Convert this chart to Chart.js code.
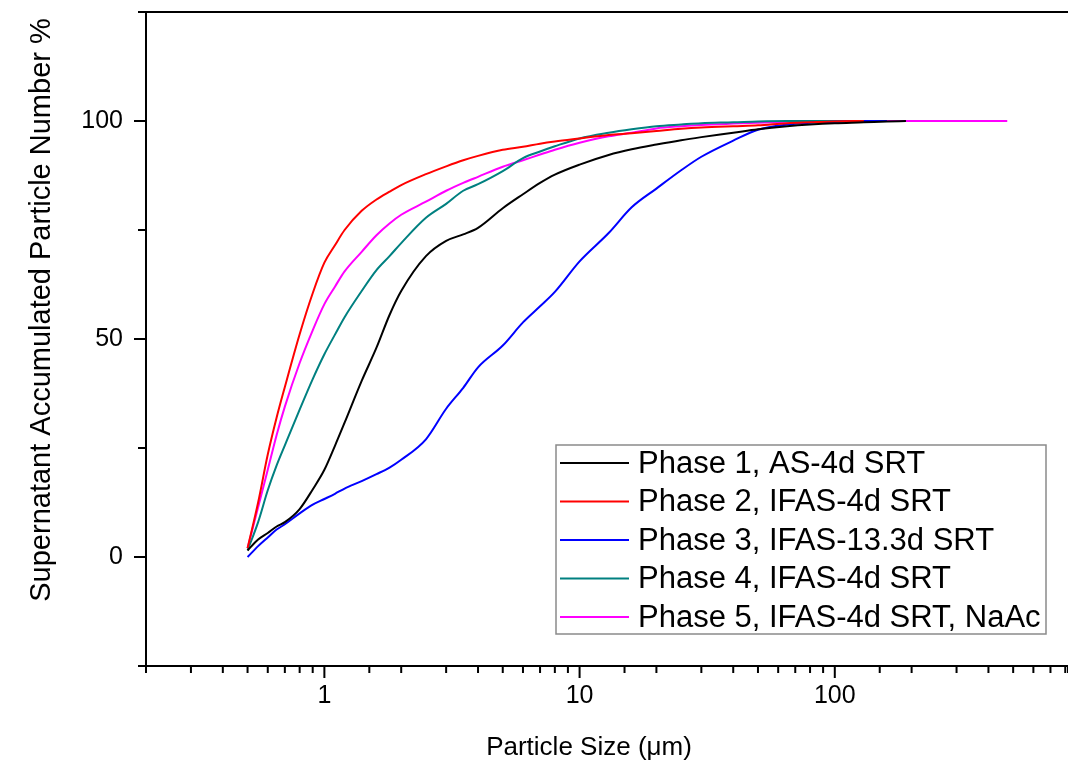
<!DOCTYPE html>
<html>
<head>
<meta charset="utf-8">
<script src="https://cdn.jsdelivr.net/npm/chart.js@4.4.0/dist/chart.umd.min.js"></script>
<style>
  body { margin: 0; background: #fff; }
  canvas { display: block; }
</style>
</head>
<body>
<canvas id="psdChart" width="1068" height="762"></canvas>
<script>
// particle size (um), shared by all phases
var sizes = [0.5, 0.55, 0.6, 0.65, 0.7, 0.8, 0.9, 1, 1.1, 1.2, 1.4, 1.6, 1.8, 2, 2.5, 3, 3.5, 4, 5, 6, 7, 8, 10, 13, 16, 20, 25, 30, 40, 50, 65, 80, 100, 130, 160, 190, 300, 474];

// accumulated particle number %, null = past end of measurement
var phase1 = [1.5, 4, 5.5, 7, 8, 11, 15.5, 20, 25.5, 30.8, 40.4, 48, 55.5, 61, 69, 72.5, 74, 75.5, 80, 83.2, 85.8, 87.7, 90, 92.2, 93.5, 94.6, 95.6, 96.3, 97.3, 98.1, 98.8, 99.2, 99.5, 99.7, 99.9, 100, null, null];
var phase2 = [2, 12.5, 23.5, 32, 39, 51.1, 60.5, 67.5, 71.5, 75, 79.4, 82, 83.8, 85.3, 87.8, 89.6, 91, 92, 93.4, 94.1, 94.8, 95.3, 96, 96.8, 97.2, 97.7, 98.2, 98.5, 98.8, 99, 99.5, 99.7, 99.9, 100, null, null, null, null];
var phase3 = [0, 2.5, 4.5, 6.3, 7.5, 10, 12, 13.3, 14.5, 15.7, 17.4, 19, 20.5, 22.3, 27, 34, 38.8, 43.5, 48.5, 53.8, 57.5, 60.8, 67.8, 74.3, 80.2, 84.5, 88.7, 91.8, 95.5, 98, 99.2, 99.6, 99.8, 100, 100, null, null, null];
var phase4 = [1.5, 8, 15.3, 21, 25.6, 33.8, 40.8, 46.5, 51, 55, 61, 65.8, 69, 72, 77.8, 81, 84, 85.5, 88.5, 91.5, 93, 94.2, 96, 97.3, 98.1, 98.8, 99.2, 99.5, 99.7, 99.9, 100, 100, 100, 100, null, null, null, null];
var phase5 = [2, 11.4, 20, 28, 34.5, 44.5, 52, 58, 62, 65.5, 70, 73.8, 76.5, 78.5, 81.5, 84, 85.8, 87.2, 89.5, 91, 92.3, 93.4, 95, 96.5, 97.3, 98.3, 98.8, 99.1, 99.4, 99.6, 99.8, 99.9, 100, 100, 100, 100, 100, 100];

var seriesLabels = ['Phase 1, AS-4d SRT', 'Phase 2, IFAS-4d SRT', 'Phase 3, IFAS-13.3d SRT', 'Phase 4, IFAS-4d SRT', 'Phase 5, IFAS-4d SRT, NaAc'];
var seriesColors = ['#000000', '#ff0000', '#0000ff', '#008080', '#ff00ff'];
var xTickLabels = [1, 10, 100];
var yTickLabels = [0, 50, 100];

var FONT = '"Liberation Sans", Arial, sans-serif';

function toPoints(values) {
    var pts = [];
    for (var i = 0; i < sizes.length; i++) {
        if (values[i] !== null) pts.push({ x: sizes[i], y: values[i] });
    }
    return pts;
}

var allSeries = [phase1, phase2, phase3, phase4, phase5];
var datasets = allSeries.map(function (vals, i) {
    return {
        label: seriesLabels[i],
        data: toPoints(vals),
        borderColor: seriesColors[i],
        borderWidth: 2,
        pointRadius: 0,
        fill: false,
        cubicInterpolationMode: 'monotone'
    };
});

// axes frame, tick marks, titles and the boxed legend (Origin style)
var originFrame = {
    id: 'originFrame',
    afterDraw: function (chart) {
        var c = chart.ctx;
        var a = chart.chartArea;
        var xs = chart.scales.x, ys = chart.scales.y;
        c.save();
        c.strokeStyle = '#000';
        c.lineWidth = 2;
        c.beginPath();
        c.moveTo(a.left - 6, a.top); c.lineTo(a.right, a.top);
        c.moveTo(a.left, a.top); c.lineTo(a.left, a.bottom);
        c.moveTo(a.left - 6, a.bottom); c.lineTo(a.right, a.bottom);
        c.stroke();

        // x ticks
        c.beginPath();
        xs.ticks.forEach(function (t) {
            var px = xs.getPixelForValue(t.value);
            if (px < a.left - 1 || px > a.right + 1) return;
            var lg = Math.log10(t.value);
            var major = Math.abs(lg - Math.round(lg)) < 1e-6;
            c.moveTo(px, a.bottom);
            c.lineTo(px, a.bottom + (major ? 12 : 7));
        });
        // y ticks
        ys.ticks.forEach(function (t) {
            var py = ys.getPixelForValue(t.value);
            var major = t.value % 50 === 0;
            c.moveTo(a.left, py);
            c.lineTo(a.left - (major ? 12 : 8), py);
        });
        c.stroke();

        // axis titles
        c.fillStyle = '#000';
        c.font = '26px ' + FONT;
        c.textAlign = 'center';
        c.textBaseline = 'alphabetic';
        c.fillText('Particle Size (\u03bcm)', a.left + 443, a.bottom + 89);
        c.save();
        c.translate(50, a.top + 298);
        c.rotate(-Math.PI / 2);
        c.font = '29px ' + FONT;
        c.fillText('Supernatant Accumulated Particle Number %', 0, 0);
        c.restore();

        // legend box
        var bx = a.left + 410, by = a.top + 433, bw = 490, bh = 189;
        c.fillStyle = '#fff';
        c.fillRect(bx, by, bw, bh);
        c.strokeStyle = '#8a8a8a';
        c.lineWidth = 1.5;
        c.strokeRect(bx, by, bw, bh);
        c.font = '31px ' + FONT;
        c.textAlign = 'left';
        c.textBaseline = 'middle';
        chart.data.datasets.forEach(function (ds, i) {
            var ry = by + 18 + i * 38.5;
            c.strokeStyle = ds.borderColor;
            c.lineWidth = 2;
            c.beginPath();
            c.moveTo(bx + 4, ry);
            c.lineTo(bx + 73, ry);
            c.stroke();
            c.fillStyle = '#000';
            c.fillText(ds.label, bx + 82, ry + 1);
        });
        c.restore();
    }
};

var ctx = document.getElementById('psdChart').getContext('2d');
var psdChart = new Chart(ctx, {
    type: 'line',
    data: { datasets: datasets },
    options: {
        responsive: false,
        animation: false,
        devicePixelRatio: 1,
        layout: { padding: { top: 12, right: 0, bottom: 0, left: 0 } },
        plugins: {
            legend: { display: false },
            tooltip: { enabled: false }
        },
        scales: {
            x: {
                type: 'logarithmic',
                min: 0.2,
                max: 820,
                grid: { display: false, drawTicks: false },
                border: { display: false },
                afterFit: function (s) {
                    s.height = 96;
                    s.paddingLeft = 0;
                    s.paddingRight = 0;
                },
                ticks: {
                    autoSkip: false,
                    maxRotation: 0,
                    padding: 15,
                    color: '#000',
                    font: { family: FONT, size: 25 },
                    callback: function (v) {
                        return xTickLabels.indexOf(v) >= 0 ? String(v) : '';
                    }
                }
            },
            y: {
                type: 'linear',
                min: -25,
                max: 125,
                grid: { display: false, drawTicks: false },
                border: { display: false },
                afterFit: function (s) {
                    s.width = 146;
                    s.paddingTop = 0;
                    s.paddingBottom = 0;
                },
                ticks: {
                    stepSize: 25,
                    padding: 23,
                    color: '#000',
                    font: { family: FONT, size: 25 },
                    callback: function (v) {
                        return yTickLabels.indexOf(v) >= 0 ? String(v) : '';
                    }
                }
            }
        }
    },
    plugins: [originFrame]
});
</script>
</body>
</html>
